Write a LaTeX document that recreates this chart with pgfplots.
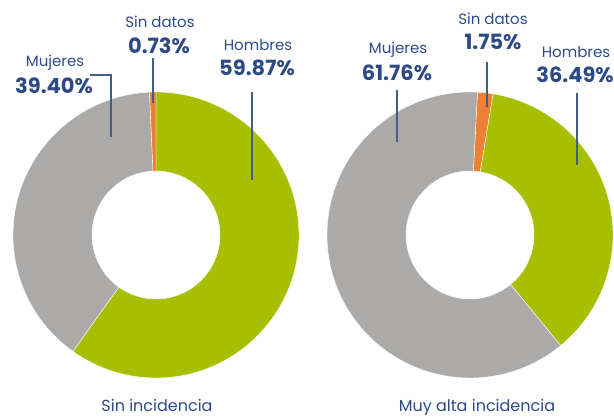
\documentclass[border=0pt]{standalone}
\usepackage{pgfplots}
\usepackage{pgfplotstable}
\pgfplotsset{compat=1.18}
\usepackage{fontspec}
\setmainfont{Poppins}
\definecolor{cgreen}{HTML}{A7BF00}
\definecolor{cgray}{HTML}{ABAAA9}
\definecolor{corange}{HTML}{EE8033}
\definecolor{cnavy}{HTML}{2D4A86}
\definecolor{cline}{HTML}{3F5F84}

% values in percent, in clockwise order from 12 o'clock
\pgfplotstableread{
label value
Hombres 59.87
Mujeres 39.40
Sindatos 0.73
}\leftdata
\pgfplotstableread{
label value
Sindatos 1.75
Hombres 36.49
Mujeres 61.76
}\rightdata

\newcommand{\ring}[6]{% cx cy start end color
  \fill[#5, draw=white, line width=0.4pt] (axis cs:#1,#2) ++(#3:143pt) arc[start angle=#3, end angle=#4, radius=143pt]
    -- ++(#4:-79pt) arc[start angle=#4, end angle=#3, radius=64pt] -- cycle;}

\begin{document}
\begin{tikzpicture}
\begin{axis}[hide axis, scale only axis, width=614pt, height=416pt,
  xmin=0, xmax=614, ymin=0, ymax=416, clip=false]
\coordinate (ll) at (axis cs:0,0);
\coordinate (ur) at (axis cs:614,416);
% left donut
\pgfplotstablegetelem{0}{value}\of\leftdata \let\la\pgfplotsretval
\pgfplotstablegetelem{1}{value}\of\leftdata \let\lb\pgfplotsretval
\pgfplotstablegetelem{2}{value}\of\leftdata \let\lc\pgfplotsretval
\pgfmathsetmacro{\lA}{90-3.6*\la}
\pgfmathsetmacro{\lB}{\lA-3.6*\lb}
\pgfmathsetmacro{\lC}{\lB-3.6*\lc}
\ring{156}{181}{90}{\lA}{cgreen}{}
\ring{156}{181}{\lA}{\lB}{cgray}{}
\ring{156}{181}{\lB}{\lC}{corange}{}
% right donut (starts slightly right of 12 o'clock)
\pgfplotstablegetelem{0}{value}\of\rightdata \let\ra\pgfplotsretval
\pgfplotstablegetelem{1}{value}\of\rightdata \let\rb\pgfplotsretval
\pgfplotstablegetelem{2}{value}\of\rightdata \let\rc\pgfplotsretval
\pgfmathsetmacro{\rA}{87-3.6*\ra}
\pgfmathsetmacro{\rB}{\rA-3.6*\rb}
\pgfmathsetmacro{\rC}{\rB-3.6*\rc}
\ring{470}{181}{87}{\rA}{corange}{}
\ring{470}{181}{\rA}{\rB}{cgreen}{}
\ring{470}{181}{\rB}{\rC}{cgray}{}

% leader lines
\draw[cline, line width=1.6pt] (axis cs:153,358) -- (axis cs:153,313);
\draw[cline, line width=1.6pt] (axis cs:252,324) -- (axis cs:252,236);
\draw[cline, line width=1.6pt] (axis cs:90,341) -- (axis cs:111,341) -- (axis cs:111,279);
\draw[cline, line width=1.6pt] (axis cs:487,354) -- (axis cs:487,309);
\draw[cline, line width=1.6pt] (axis cs:397,326) -- (axis cs:397,274);
\draw[cline, line width=1.6pt] (axis cs:577,323) -- (axis cs:577,251);

% labels
\tikzset{lab/.style={text=cnavy, inner sep=0pt, font=\fontsize{15}{17}\selectfont},
         val/.style={text=cnavy, inner sep=0pt, font=\fontsize{21}{24}\bfseries\selectfont}}
\node[lab] at (axis cs:160,394) {Sin datos};
\node[val] at (axis cs:159,370) {0.73\%};
\node[lab] at (axis cs:258,371) {Hombres};
\node[val] at (axis cs:257,348) {59.87\%};
\node[lab] at (axis cs:55,353) {Mujeres};
\node[val] at (axis cs:54,330) {39.40\%};

\node[lab] at (axis cs:493,397) {Sin datos};
\node[val] at (axis cs:493,374) {1.75\%};
\node[lab] at (axis cs:398,366) {Mujeres};
\node[val] at (axis cs:397,343) {61.76\%};
\node[lab] at (axis cs:576,364) {Hombres};
\node[val] at (axis cs:575,341) {36.49\%};

\node[text=cnavy, anchor=base, inner sep=0pt, font=\fontsize{16}{18}\selectfont] at (axis cs:157,5) {Sin incidencia};
\node[text=cnavy, anchor=base, inner sep=0pt, font=\fontsize{16}{18}\selectfont] at (axis cs:477,5) {Muy alta incidencia};
\end{axis}
\pgfresetboundingbox
\path[use as bounding box] (ll) rectangle (ur);
\end{tikzpicture}
\end{document}
